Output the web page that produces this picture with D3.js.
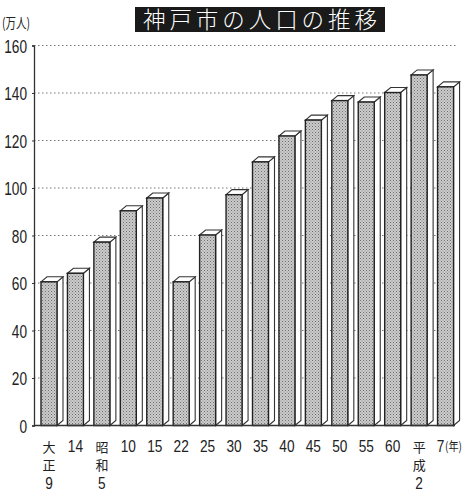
<!DOCTYPE html>
<html>
  <head>
    <meta charset="utf-8">
    <title>神戸市の人口の推移</title>
    <script src="https://d3js.org/d3.v7.min.js"></script>
    <style>
      body { margin: 0; background: #fff; }
      svg { display: block; }
      .num { font-family: "Liberation Sans", "DejaVu Sans", sans-serif; fill: #222; }
      .kanji { font-family: "Noto Sans CJK JP", sans-serif; fill: #222; }
    </style>
  </head>
  <body>
    <script>
      // 年次ラベル（縦書きは行ごとに分ける）
      const years = [
        ['大', '正', '9'], ['14'], ['昭', '和', '5'], ['10'], ['15'], ['22'], ['25'], ['30'],
        ['35'], ['40'], ['45'], ['50'], ['55'], ['60'], ['平', '成', '2'], ['7']
      ];
      // 人口（万人）
      const population = [60.5, 64.1, 77.2, 90.4, 95.8, 60.5, 80.2, 97.2,
                          111.0, 121.9, 128.6, 136.8, 136.2, 140.2, 147.6, 142.6];
      const yTicks = [0, 20, 40, 60, 80, 100, 120, 140, 160];

      const w = 466;
      const h = 493;
      const mLeft = 34;
      const mRight = 457;
      const mTop = 45.5;
      const mBottom = 425.5;
      const faceW = 16;
      const dx = 6;
      const dy = 5;
      const digitW = 7.6; // condensed digits

      const xScale = d3.scaleBand()
                       .domain(d3.range(years.length))
                       .range([mLeft + 1, mRight + 1])
                       .padding(0);

      const yScale = d3.scaleLinear()
                       .domain([0, 160])
                       .range([mBottom, mTop]);

      const svg = d3.select('body')
                    .append('svg')
                    .attr('width', w)
                    .attr('height', h);

      const defs = svg.append('defs');
      const pat = defs.append('pattern')
                      .attr('id', 'dots')
                      .attr('width', 3)
                      .attr('height', 3)
                      .attr('patternUnits', 'userSpaceOnUse');
      pat.append('rect').attr('width', 3).attr('height', 3).attr('fill', '#cbcbcb');
      pat.append('rect').attr('width', 1).attr('height', 1).attr('fill', '#6e6e6e');
      pat.append('rect').attr('x', 1.5).attr('y', 1.5).attr('width', 1).attr('height', 1).attr('fill', '#8e8e8e');

      // title
      svg.append('rect')
         .attr('x', 135).attr('y', 7)
         .attr('width', 250).attr('height', 25)
         .attr('fill', '#1a1a1a');
      svg.append('text')
         .attr('class', 'kanji')
         .attr('x', 260).attr('y', 28)
         .attr('text-anchor', 'middle')
         .attr('font-size', 22.5)
         .attr('font-weight', 300)
         .attr('textLength', 234)
         .attr('lengthAdjust', 'spacing')
         .style('fill', '#fff')
         .text('神戸市の人口の推移');

      // unit
      svg.append('text')
         .attr('class', 'kanji')
         .attr('x', 2).attr('y', 28)
         .attr('font-size', 14)
         .attr('textLength', 28)
         .attr('lengthAdjust', 'spacingAndGlyphs')
         .text('(万人)');

      // grid
      svg.append('g')
         .selectAll('line')
         .data(yTicks.filter(d => d > 0))
         .enter()
         .append('line')
         .attr('x1', mLeft)
         .attr('x2', mRight)
         .attr('y1', d => yScale(d))
         .attr('y2', d => yScale(d))
         .attr('stroke', '#777')
         .attr('stroke-width', 1)
         .attr('stroke-dasharray', '1.5,2.5');

      // y axis
      const yAxis = d3.axisLeft(yScale)
                      .tickValues(yTicks)
                      .tickSize(2)
                      .tickPadding(5)
                      .tickFormat(d3.format('d'));

      const gy = svg.append('g')
                    .attr('transform', `translate(${mLeft}, 0)`)
                    .call(yAxis);
      gy.select('.domain').attr('stroke', '#333').attr('stroke-width', 1.3);
      gy.selectAll('.tick line').attr('stroke', '#333');
      gy.selectAll('.tick text')
        .attr('class', 'num')
        .attr('font-size', 19)
        .attr('dy', '0.36em')
        .attr('textLength', d => String(d).length * digitW)
        .attr('lengthAdjust', 'spacingAndGlyphs');

      // bars
      const bars = svg.append('g')
                      .selectAll('g')
                      .data(population)
                      .enter()
                      .append('g');

      const x0 = (d, i) => xScale(i) + 6;

      bars.append('path')
          .attr('d', (d, i) => {
            const a = x0(d, i) + faceW;
            const yt = yScale(d);
            return `M${a},${yt}L${a + dx},${yt - dy}L${a + dx},${mBottom - dy}L${a},${mBottom}Z`;
          })
          .attr('fill', '#fff')
          .attr('stroke', '#333')
          .attr('stroke-width', 1.1);

      bars.append('path')
          .attr('d', (d, i) => {
            const a = x0(d, i);
            const yt = yScale(d);
            return `M${a},${yt}L${a + dx},${yt - dy}L${a + faceW + dx},${yt - dy}L${a + faceW},${yt}Z`;
          })
          .attr('fill', '#fff')
          .attr('stroke', '#333')
          .attr('stroke-width', 1.1);

      bars.append('rect')
          .attr('x', (d, i) => x0(d, i))
          .attr('y', d => yScale(d))
          .attr('width', faceW)
          .attr('height', d => mBottom - yScale(d))
          .attr('fill', 'url(#dots)')
          .attr('stroke', '#222')
          .attr('stroke-width', 1.4);

      // baseline
      svg.append('line')
         .attr('x1', mLeft).attr('x2', mRight - 2)
         .attr('y1', mBottom).attr('y2', mBottom)
         .attr('stroke', '#333')
         .attr('stroke-width', 1.3);

      // x labels
      const xl = svg.append('g')
                    .selectAll('g')
                    .data(years)
                    .enter()
                    .append('g')
                    .attr('transform', (d, i) => {
                      const cx = x0(null, i) + faceW / 2 - (i === years.length - 1 ? 5 : 0);
                      return `translate(${cx}, 452)`;
                    });

      const isNum = s => /\d/.test(s);
      xl.selectAll('text')
        .data(d => d)
        .enter()
        .append('text')
        .attr('class', d => isNum(d) ? 'num' : 'kanji')
        .attr('x', d => isNum(d) ? -d.length * digitW / 2 : 0)
        .attr('y', (d, i) => i === 0 ? 0 : i * 18 + (isNum(d) ? 1 : 0))
        .attr('text-anchor', d => isNum(d) ? 'start' : 'middle')
        .attr('font-size', d => isNum(d) ? 17 : 13)
        .attr('textLength', d => isNum(d) ? d.length * digitW : null)
        .attr('lengthAdjust', 'spacingAndGlyphs')
        .text(d => d);

      svg.append('text')
         .attr('class', 'kanji')
         .attr('x', 445).attr('y', 451)
         .attr('font-size', 12)
         .attr('textLength', 17)
         .attr('lengthAdjust', 'spacingAndGlyphs')
         .text('(年)');
    </script>
  </body>
</html>
